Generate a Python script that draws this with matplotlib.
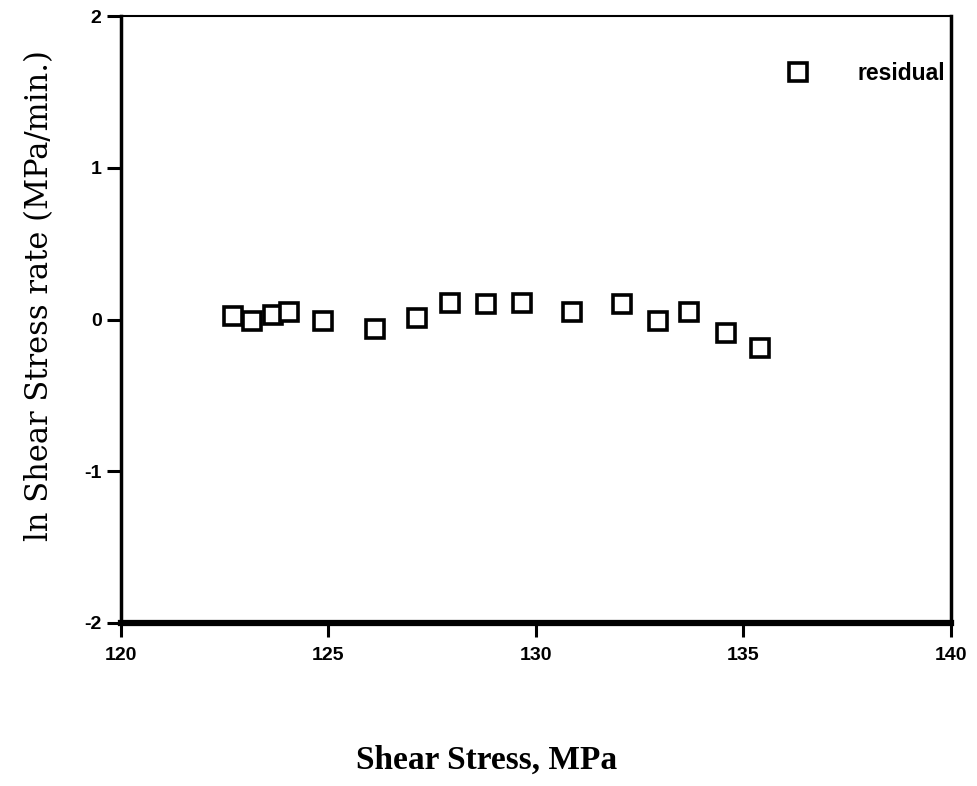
import matplotlib.pyplot as plt

# Residuals
shear_stress = [122.70, 123.16, 123.66, 124.05, 124.87, 126.12, 127.13, 127.93,
                128.80, 129.66, 130.87, 132.07, 132.94, 133.69, 134.58, 135.40]
residual = [0.02, -0.01, 0.03, 0.05, -0.01, -0.06, 0.01, 0.11,
            0.10, 0.11, 0.05, 0.10, -0.01, 0.05, -0.09, -0.19]

x_ticks = [120, 125, 130, 135, 140]
y_ticks = [-2, -1, 0, 1, 2]

tick_font = ['Liberation Sans Narrow', 'Liberation Sans', 'DejaVu Sans']
label_font = ['Liberation Serif', 'DejaVu Serif']

fig = plt.figure(figsize=(9.77, 7.86), dpi=100)
ax = fig.add_axes([0.1238, 0.2074, 0.8496, 0.7722])

ax.plot(shear_stress, residual, linestyle='none', marker='s', markersize=13,
        markerfacecolor='white', markeredgecolor='black', markeredgewidth=2.6,
        label='residual')

ax.set_xlim(120, 140)
ax.set_ylim(-2, 2)
ax.set_xticks(x_ticks)
ax.set_yticks(y_ticks)
ax.set_xticklabels([str(t) for t in x_ticks], family=tick_font, fontweight='bold', fontsize=14)
ax.set_yticklabels([str(t) for t in y_ticks], family=tick_font, fontweight='bold', fontsize=14)
ax.tick_params(direction='out', length=10, width=2.2, pad=4, colors='black')
ax.tick_params(axis='x', pad=7)

ax.spines['bottom'].set_linewidth(4.5)
ax.spines['left'].set_linewidth(2.5)
ax.spines['right'].set_linewidth(2.5)
ax.spines['top'].set_linewidth(1.5)

ax.set_xlabel('Shear Stress, MPa', family=label_font, fontweight='bold', fontsize=24)
ax.xaxis.set_label_coords(0.44, -0.2)
ax.set_ylabel('ln Shear Stress rate (MPa/min.)', family=['DejaVu Serif'], fontsize=22)
ax.yaxis.set_label_coords(-0.08, 0.539)

leg = ax.legend(loc='center left', bbox_to_anchor=(0.802, 0.905), frameon=False,
                handlelength=1.0, handletextpad=2.1, borderaxespad=0, borderpad=0,
                prop={'family': tick_font[1:], 'weight': 'bold', 'size': 16.5})

fig.savefig('out.png', dpi=100)
